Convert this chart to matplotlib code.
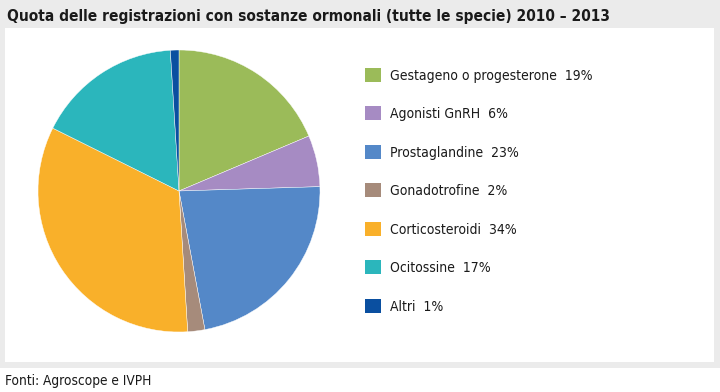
import matplotlib
matplotlib.use("Agg")
import matplotlib.pyplot as plt
from matplotlib.patches import Rectangle

labels = ["Gestageno o progesterone", "Agonisti GnRH", "Prostaglandine",
          "Gonadotrofine", "Corticosteroidi", "Ocitossine", "Altri"]
values = [19, 6, 23, 2, 34, 17, 1]
colors = ["#9bbb59", "#a68bc3", "#5488c8", "#a68b7b", "#f9b02a", "#2bb6bc", "#0a4fa0"]

title = "Quota delle registrazioni con sostanze ormonali (tutte le specie) 2010 – 2013"
source = "Fonti: Agroscope e IVPH"

FONT = dict(family="DejaVu Sans", stretch="condensed")
W, H = 720, 392

fig = plt.figure(figsize=(W / 100, H / 100), dpi=100)
fig.patch.set_facecolor("white")

# grey frame + white panel
fig.patches.append(Rectangle((0, (H - 368) / H), 1, 368 / H, transform=fig.transFigure,
                             facecolor="#ebebeb", edgecolor="none", zorder=-10))
fig.patches.append(Rectangle((5 / W, (H - 362) / H), 709 / W, 334 / H, transform=fig.transFigure,
                             facecolor="white", edgecolor="none", zorder=-9))

fig.text(7 / W, 1 - 17 / H, title, fontweight="bold", fontsize=11.1,
         color="#1a1a1a", va="center", ha="left", **FONT)
fig.text(5 / W, 1 - 381 / H, source, fontsize=9.8,
         color="#1a1a1a", va="center", ha="left", **FONT)

cx, cy, r = 179, 191, 141
ax = fig.add_axes([(cx - r) / W, (H - cy - r) / H, 2 * r / W, 2 * r / H])
wedges, _ = ax.pie(values, colors=colors, startangle=90, counterclock=False,
                   wedgeprops=dict(linewidth=0.3, edgecolor="white"))
ax.set_aspect("equal")
ax.set_xlim(-1, 1)
ax.set_ylim(-1, 1)
ax.axis("off")

leg_labels = [f"{l}  {v}%" for l, v in zip(labels, values)]
leg = fig.legend(wedges, leg_labels, loc="upper left", bbox_to_anchor=(365 / W, 1 - 68 / H),
                 frameon=False, prop=dict(size=10, **FONT), handlelength=1.15,
                 handleheight=1.15, handletextpad=0.65, labelspacing=1.72, borderaxespad=0,
                 borderpad=0)
for t in leg.get_texts():
    t.set_color("#1a1a1a")
for p in leg.legend_handles:
    p.set_edgecolor("none")

fig.savefig("out.png", dpi=100, facecolor=fig.get_facecolor())
